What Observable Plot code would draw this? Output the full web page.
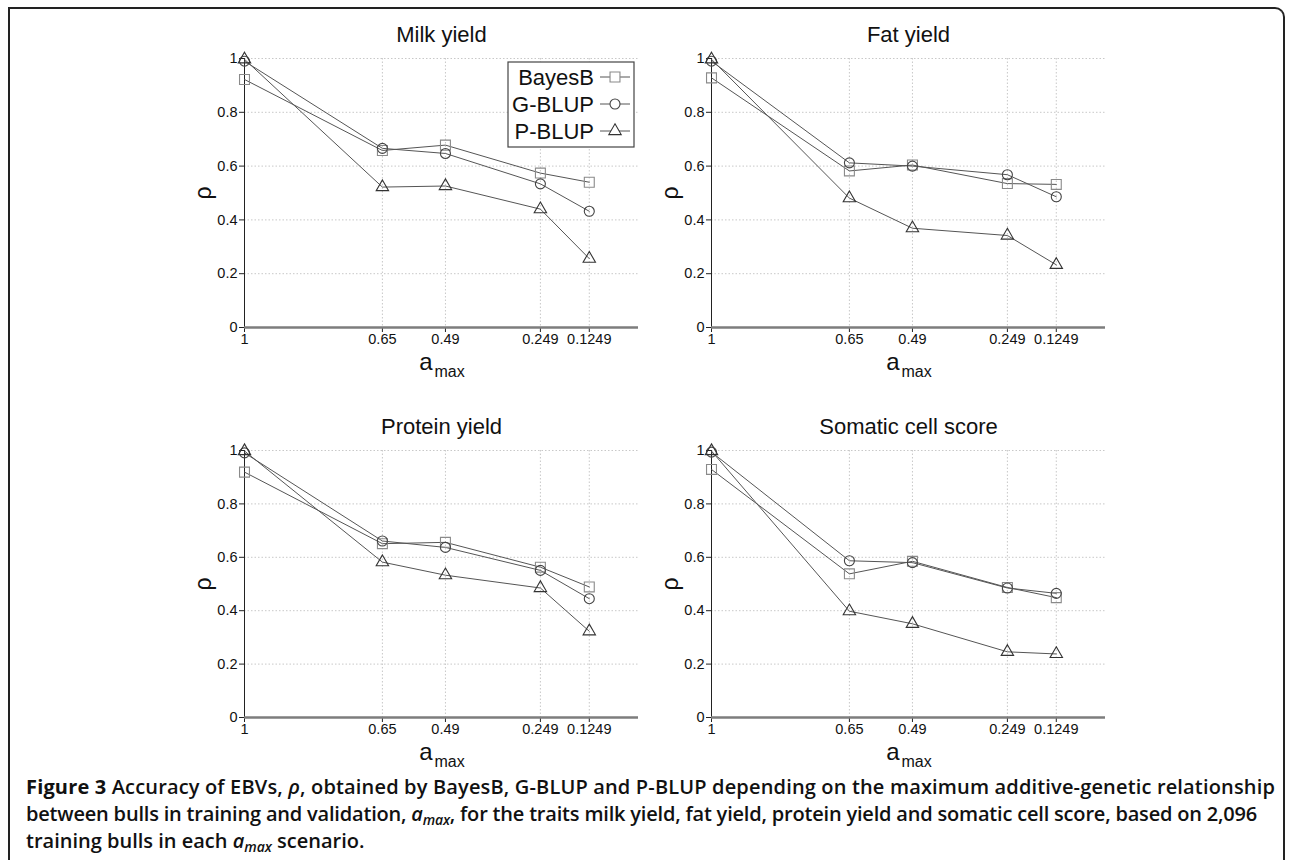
<!DOCTYPE html>
<html>
<head>
<meta charset="utf-8">
<script src="https://cdn.jsdelivr.net/npm/d3@7"></script>
<script src="https://cdn.jsdelivr.net/npm/@observablehq/plot@0.6"></script>
<style>
  html, body { margin: 0; padding: 0; background: #fff; }
  #wrap { position: relative; width: 1292px; height: 860px; overflow: hidden; background: #fff; }
  #frame { position: absolute; left: 8px; top: 7px; width: 1277px; height: 900px;
           border: 2px solid #222; border-bottom: none; border-top-right-radius: 10px; box-sizing: border-box; }
  .panel { position: absolute; }
  #caption { position: absolute; left: 26px; top: 773px; white-space: nowrap;
             font-family: "Open Sans", "Noto Sans", sans-serif; font-weight: 600; font-size: 20px;
             line-height: 27px; color: #111; }
  #caption .ln { display: inline-block; white-space: nowrap; }
  #caption b { font-weight: 700; }
  #caption sub { font-size: 0.7em; line-height: 0; vertical-align: -0.25em; }
</style>
</head>
<body>
<div id="wrap">
  <div id="frame"></div>
  <div id="caption"><span class="ln" data-w="1249"><b>Figure 3</b> Accuracy of EBVs, <i>ρ</i>, obtained by BayesB, G-BLUP and P-BLUP depending on the maximum additive-genetic relationship</span><br><span class="ln" data-w="1231">between bulls in training and validation, <i>a<sub>max</sub></i>, for the traits milk yield, fat yield, protein yield and somatic cell score, based on 2,096</span><br><span class="ln" data-w="0">training bulls in each <i>a<sub>max</sub></i> scenario.</span></div>
</div>
<script>
// ---- data ----
const aMax = [1, 0.65, 0.49, 0.249, 0.1249];
const xTickLabels = ["1", "0.65", "0.49", "0.249", "0.1249"];
const yTicks = [0, 0.2, 0.4, 0.6, 0.8, 1];
const yTickLabels = ["0", "0.2", "0.4", "0.6", "0.8", "1"];
const methods = ["BayesB", "G-BLUP", "P-BLUP"];
const traits = ["Milk yield", "Fat yield", "Protein yield", "Somatic cell score"];

const milkBayesB    = [0.922, 0.658, 0.678, 0.574, 0.540];
const milkGBLUP     = [0.990, 0.666, 0.647, 0.534, 0.432];
const milkPBLUP     = [0.997, 0.522, 0.526, 0.440, 0.256];
const fatBayesB     = [0.928, 0.582, 0.604, 0.535, 0.532];
const fatGBLUP      = [0.990, 0.612, 0.600, 0.568, 0.486];
const fatPBLUP      = [0.997, 0.481, 0.369, 0.342, 0.233];
const proteinBayesB = [0.919, 0.651, 0.656, 0.563, 0.489];
const proteinGBLUP  = [0.991, 0.661, 0.637, 0.551, 0.445];
const proteinPBLUP  = [0.998, 0.582, 0.533, 0.485, 0.323];
const sccBayesB     = [0.929, 0.538, 0.585, 0.487, 0.449];
const sccGBLUP      = [0.994, 0.587, 0.580, 0.485, 0.465];
const sccPBLUP      = [0.998, 0.398, 0.351, 0.246, 0.238];

const traitSeries = [
  [milkBayesB, milkGBLUP, milkPBLUP],
  [fatBayesB, fatGBLUP, fatPBLUP],
  [proteinBayesB, proteinGBLUP, proteinPBLUP],
  [sccBayesB, sccGBLUP, sccPBLUP]
];

// ---- styling ----
const symbols = {"BayesB": "square", "G-BLUP": "circle", "P-BLUP": "triangle"};
const symStroke = {"BayesB": "#8a8a8a", "G-BLUP": "#444", "P-BLUP": "#333"};
const symR = {"BayesB": 5.6, "G-BLUP": 5, "P-BLUP": 4.6};
const layout = [
  {left: 134, top: 0, plotH: 269},
  {left: 601, top: 0, plotH: 269},
  {left: 134, top: 392, plotH: 267},
  {left: 601, top: 392, plotH: 267}
];
const mL = 110, mT = 58, plotW = 394, mB = 60, W = 560;
const tickFont = 14.5;

const wrap = document.getElementById("wrap");

traits.forEach((trait, ti) => {
  const rows = [];
  methods.forEach((m, mi) => {
    aMax.forEach((a, i) => rows.push({trait, method: m, a, rho: traitSeries[ti][mi][i]}));
  });
  const L = layout[ti];
  const H = mT + L.plotH + mB;
  const marks = [
    Plot.gridY(yTicks.slice(1), {stroke: "#c8c8c8", strokeOpacity: 1, strokeDasharray: "1.5,2"}),
    Plot.gridX(aMax.slice(1), {stroke: "#c8c8c8", strokeOpacity: 1, strokeDasharray: "1.5,2"}),
    Plot.axisY(yTicks, {tickSize: 5, stroke: "#222", tickFormat: () => "", label: null}),
    Plot.axisX(aMax, {tickSize: 5, stroke: "#222", tickFormat: () => "", label: null}),
    Plot.text(yTicks, {y: d => d, frameAnchor: "left", text: d => yTickLabels[yTicks.indexOf(d)],
                       textAnchor: "end", lineAnchor: "middle", dx: -7, fontSize: tickFont, fill: "#111"}),
    Plot.text(aMax, {x: d => d, frameAnchor: "bottom", text: d => xTickLabels[aMax.indexOf(d)],
                     textAnchor: "middle", lineAnchor: "top", dy: 6, fontSize: tickFont, fill: "#111"}),
    Plot.ruleX([1], {stroke: "#222", strokeWidth: 1}),
    Plot.ruleY([0], {stroke: "#7d7d7d", strokeWidth: 2.5}),
    Plot.line(rows, {x: "a", y: "rho", z: "method", stroke: "#555", strokeWidth: 1}),
    ...methods.map(m => Plot.dot(rows.filter(d => d.method === m),
      {x: "a", y: "rho", symbol: () => symbols[m], r: symR[m], stroke: symStroke[m], fill: "none", strokeWidth: 1.1})),
    Plot.text([trait], {frameAnchor: "top", lineAnchor: "middle", textAnchor: "middle", dy: -24, fontSize: 22, fill: "#111"}),
    Plot.text(["ρ"], {frameAnchor: "left", lineAnchor: "middle", textAnchor: "middle", dx: -41, rotate: -90, fontSize: 23, fill: "#111"}),
    Plot.text(["a"], {frameAnchor: "bottom", lineAnchor: "middle", textAnchor: "middle", dy: 35, dx: -15.5, fontSize: 24, fill: "#111"}),
    Plot.text(["max"], {frameAnchor: "bottom", lineAnchor: "middle", dy: 44, dx: -7, fontSize: 16, textAnchor: "start", fill: "#111"})
  ];
  const fig = Plot.plot({
    width: W, height: H,
    marginLeft: mL, marginRight: W - mL - plotW, marginTop: mT, marginBottom: mB,
    x: {domain: [1, 0], axis: null},
    y: {domain: [0, 1], axis: null},
    symbol: {domain: ["square", "circle", "triangle"], range: ["square", "circle", "triangle"]},
    style: {fontFamily: "'Liberation Sans', Arial, sans-serif", fontSize: "14px", color: "#111", background: "transparent", overflow: "visible"},
    marks
  });
  fig.classList.add("panel");
  fig.style.left = L.left + "px";
  fig.style.top = L.top + "px";
  wrap.appendChild(fig);

  if (ti === 0) {
    // legend box inside first panel
    const g = d3.select(fig).append("g").attr("font-family", "'Liberation Sans', Arial, sans-serif");
    g.append("rect").attr("x", 374).attr("y", 62).attr("width", 126).attr("height", 85)
      .attr("fill", "white").attr("stroke", "#444").attr("stroke-width", 1.2);
    methods.forEach((m, i) => {
      const cy = 77 + i * 27;
      g.append("text").attr("x", 460).attr("y", cy).attr("dy", "0.36em").attr("text-anchor", "end")
        .attr("font-size", 22).attr("fill", "#111").text(m);
      g.append("line").attr("x1", 466).attr("x2", 496).attr("y1", cy).attr("y2", cy)
        .attr("stroke", "#555").attr("stroke-width", 1);
      const type = {square: d3.symbolSquare, circle: d3.symbolCircle, triangle: d3.symbolTriangle}[symbols[m]];
      g.append("path").attr("transform", `translate(481,${cy})`)
        .attr("d", d3.symbol(type, Math.PI * symR[m] * symR[m])())
        .attr("fill", "white").attr("stroke", symStroke[m]).attr("stroke-width", 1.1);
    });
  }
});

// fit caption lines to the reference widths
document.querySelectorAll("#caption .ln").forEach(el => {
  const target = +el.dataset.w;
  if (!target) return;
  const w = el.getBoundingClientRect().width;
  const n = el.textContent.length;
  el.style.letterSpacing = ((target - w) / n) + "px";
});
</script>
</body>
</html>
